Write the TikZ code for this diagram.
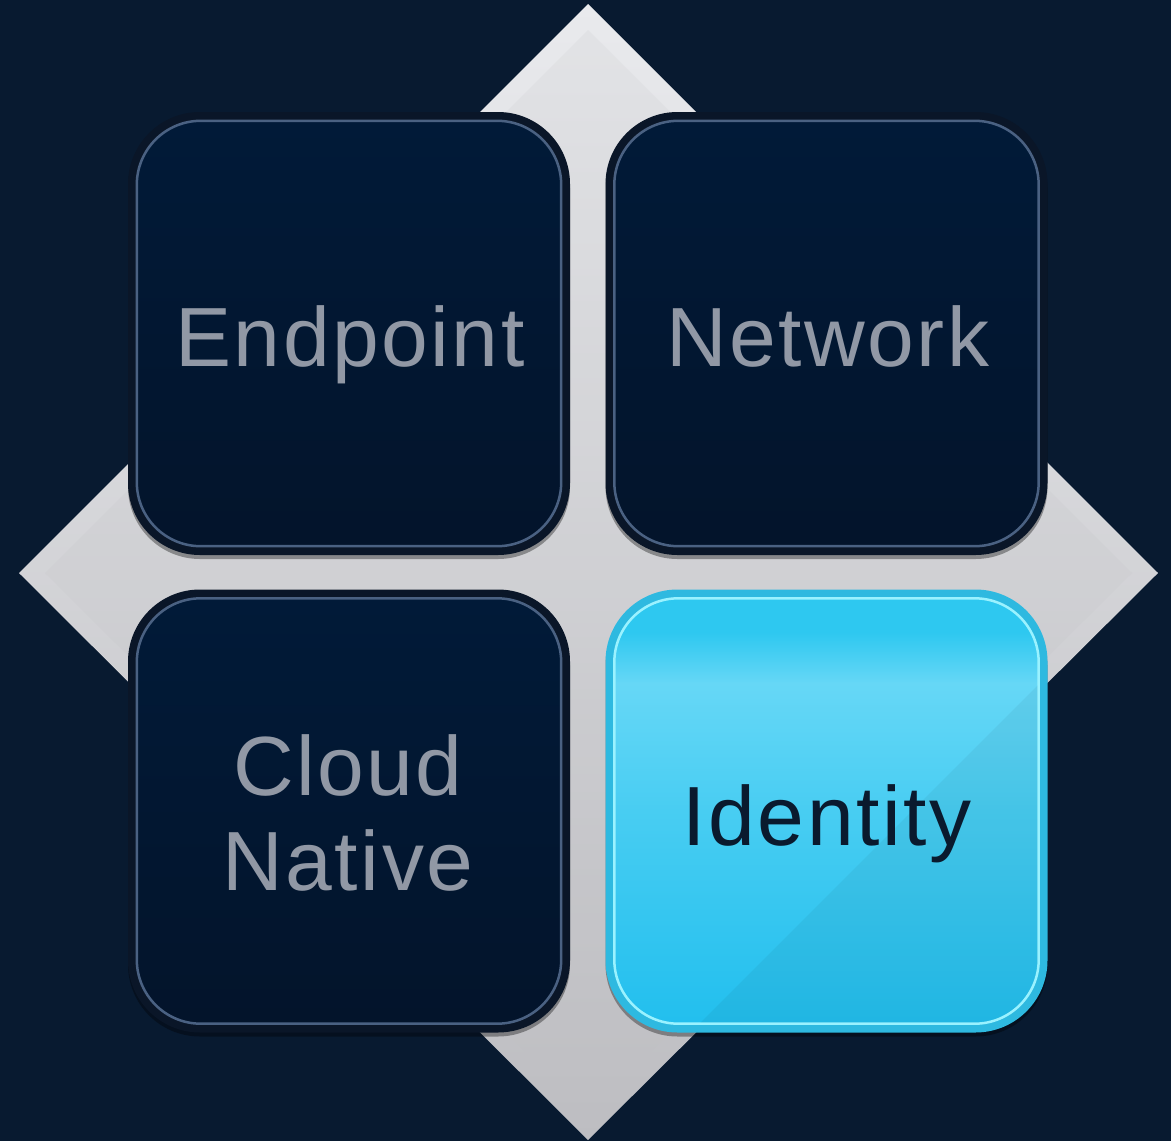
\documentclass[tikz,border=0pt]{standalone}
\usepackage{fontspec}
\setmainfont{Liberation Sans}[LetterSpace=3]
\usetikzlibrary{shadows,fadings}
\definecolor{bg}{HTML}{081A30}
\definecolor{dtop}{HTML}{E9EAED}
\definecolor{dbot}{HTML}{BDBDC1}
\definecolor{navyrim}{HTML}{0A1628}
\definecolor{navyedge}{HTML}{4A6182}
\definecolor{navytop}{HTML}{011A38}
\definecolor{navybot}{HTML}{03142B}
\definecolor{txtgray}{HTML}{9198A5}
\definecolor{cyanrim}{HTML}{2EB9E0}
\definecolor{cyanedge}{HTML}{9AF2FF}
\definecolor{ink}{HTML}{0A1A2E}
\definecolor{cyanB}{HTML}{22BFEE}
\definecolor{cyanC}{HTML}{48CDF2}
\definecolor{cyanD}{HTML}{5CD4F5}
\definecolor{cyanE}{HTML}{66D7F6}
\definecolor{cyanF}{HTML}{2EC8F0}
\pgfdeclareverticalshading{cyanface}{100bp}{%
  color(0bp)=(cyanB); color(25bp)=(cyanB); color(50bp)=(cyanC); color(60bp)=(cyanD);
  color(65bp)=(cyanE); color(71bp)=(cyanF); color(100bp)=(cyanF)}
\tikzset{
  tile/.style={rounded corners=72pt, minimum width=442pt, minimum height=443pt,
    inner sep=0pt, drop shadow={shadow xshift=0pt, shadow yshift=-4pt, opacity=0.35, fill=black}},
  darktile/.style={tile, fill=navyrim},
  lighttile/.style={tile, fill=cyanrim},
  darkface/.style={rounded corners=64pt, top color=navytop, bottom color=navybot,
    draw=navyedge, line width=2.5pt},
  lightface/.style={rounded corners=64pt, shading=cyanface, draw=cyanedge, line width=2.5pt},
  label/.style={anchor=base, inner sep=0pt, font=\fontsize{84}{95}\selectfont},
}
\begin{document}
\begin{tikzpicture}[x=1pt,y=-1pt]
\fill[bg] (0,0) rectangle (1171,1141);
\useasboundingbox (0,0) rectangle (1171,1141);
% diamond
\coordinate (dT) at (588,4);
\coordinate (dR) at (1158,573);
\coordinate (dB) at (588,1140);
\coordinate (dL) at (19,573);
\shade[top color=dtop, bottom color=dbot] (dT) -- (dR) -- (dB) -- (dL) -- cycle;
\shade[top color=dtop!92!black, bottom color=dbot!97!white, opacity=0.35]
  (588,30) -- (1132,573) -- (588,1114) -- (45,573) -- cycle;
% tiles (rim)
\node[darktile] (endpoint) at (349,333.5) {};
\node[darktile] (network) at (826.5,333.5) {};
\node[darktile] (cloud) at (349,811) {};
\node[lighttile] (identity) at (826.5,811) {};
% faces
\foreach \n in {endpoint,network,cloud}{
  \draw[darkface] ([shift={(9pt,-9pt)}]\n.north west) rectangle ([shift={(-9pt,9pt)}]\n.south east);
}
\draw[lightface] ([shift={(9pt,-9pt)}]identity.north west) rectangle ([shift={(-9pt,9pt)}]identity.south east);
% diagonal sheen on the highlighted tile (lower-right half slightly darker)
\begin{scope}
  \clip[rounded corners=64pt] ([shift={(10pt,-10pt)}]identity.north west) rectangle ([shift={(-10pt,10pt)}]identity.south east);
  \fill[black, opacity=0.045] (1052,671) -- (1052,1040) -- (683,1040) -- cycle;
\end{scope}
% labels
\node[label, text=txtgray] (tEndpoint) at (350,366) {Endpoint};
\node[label, text=txtgray] (tNetwork) at (828,366) {Network};
\node[label, text=txtgray] (tCloud) at (348,795) {Cloud};
\node[label, text=txtgray] (tNative) at (348,890) {Native};
\node[label, text=ink] (tIdentity) at (827,845) {Identity};
\end{tikzpicture}
\end{document}
